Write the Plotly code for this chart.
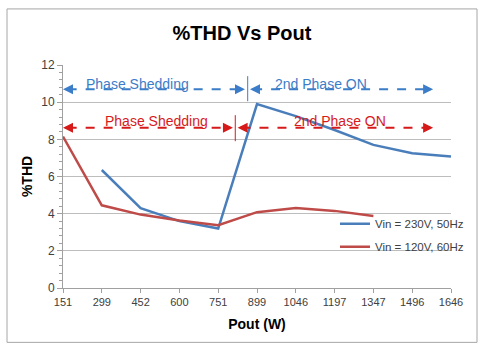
import plotly.graph_objects as go

categories = ["151", "299", "452", "600", "751", "899", "1046", "1197", "1347", "1496", "1646"]
thd_230 = [None, 6.35, 4.3, 3.6, 3.2, 9.9, 9.25, 8.5, 7.7, 7.25, 7.07]
thd_120 = [8.15, 4.45, 3.95, 3.63, 3.38, 4.08, 4.3, 4.15, 3.88, None, None]
series_names = ["Vin = 230V, 50Hz", "Vin = 120V, 60Hz"]

BLUE = "#4a7ebb"
RED = "#be4b48"
ABLUE = "#3b7dc8"
ARED = "#d61a1a"
FONT = "Liberation Sans"

xs = list(range(len(categories)))

fig = go.Figure()
fig.add_trace(go.Scatter(x=xs, y=thd_230, mode="lines", name=series_names[0], legendgroup="a",
                         line=dict(color=BLUE, width=2.5)))
fig.add_trace(go.Scatter(x=xs, y=thd_120, mode="lines", name=series_names[1], legendgroup="b",
                         line=dict(color=RED, width=2.5)))

# paper-coord helpers from pixel positions
L, R, T, B = 63, 451, 65, 287.7
def px(x):
    return (x - L) / (R - L)
def py(y):
    return (B - y) / (B - T)

shapes = []
annotations = []

def dashed(x0, x1, y, color):
    shapes.append(dict(type="line", xref="x", yref="y", x0=x0, x1=x1, y0=y, y1=y,
                       line=dict(color=color, width=2, dash="dash")))

def head(x, y, color, direction):
    annotations.append(dict(x=x, y=y, xref="x", yref="y", text="", showarrow=True,
                            ax=-9 * direction, ay=0, arrowhead=2, arrowsize=1,
                            arrowwidth=2, arrowcolor=color))

def label(x, y, text, color):
    annotations.append(dict(x=px(x), y=py(y), xref="paper", yref="paper", text=text,
                            xanchor="center", yanchor="middle", showarrow=False,
                            font=dict(family=FONT, size=14, color=color)))

# blue annotations (y = 10.7)
yb = 10.7
dashed(0.12, 4.6, yb, ABLUE)
head(0.0, yb, ABLUE, -1)
head(4.69, yb, ABLUE, 1)
dashed(4.9, 9.4, yb, ABLUE)
head(4.82, yb, ABLUE, -1)
head(9.54, yb, ABLUE, 1)
shapes.append(dict(type="line", xref="x", yref="y", x0=4.76, x1=4.76, y0=10.05, y1=11.4,
                   line=dict(color=ABLUE, width=1)))
label(137, 84, "Phase Shedding", ABLUE)
label(321, 84, "2nd Phase ON", ABLUE)

# red annotations (y = 8.62)
yr = 8.62
dashed(0.12, 4.3, yr, ARED)
head(0.0, yr, ARED, -1)
head(4.38, yr, ARED, 1)
dashed(4.6, 9.4, yr, ARED)
head(4.5, yr, ARED, -1)
head(9.54, yr, ARED, 1)
shapes.append(dict(type="line", xref="x", yref="y", x0=4.44, x1=4.44, y0=7.9, y1=9.3,
                   line=dict(color=ARED, width=1)))
label(156, 121, "Phase Shedding", ARED)
label(340, 121, "2nd Phase ON", ARED)

# outer frame
shapes.append(dict(type="rect", xref="paper", yref="paper", x0=px(7), x1=px(477),
                   y0=py(342), y1=py(9), line=dict(color="#a6a6a6", width=1), layer="below"))

fig.update_layout(
    width=484, height=348,
    margin=dict(l=L, r=484 - R, t=T, b=348 - B),
    paper_bgcolor="white", plot_bgcolor="white",
    font=dict(family=FONT, size=11, color="#404040"),
    title=dict(text="<b>%THD Vs Pout</b>", x=0.5, xref="container", xanchor="center",
               y=1 - 33 / 348, yanchor="middle",
               font=dict(family=FONT, size=20, color="#000000")),
    showlegend=True,
    legend=dict(x=px(335), y=py(209), xanchor="left", yanchor="top",
                bgcolor="rgba(0,0,0,0)", font=dict(family=FONT, size=11.5, color="#404040"),
                itemwidth=30, tracegroupgap=4),
    xaxis=dict(range=[0, 10], tickvals=xs, ticktext=categories, showgrid=False,
               showline=True, linecolor="#a0a0a0", linewidth=1,
               ticks="outside", ticklen=4, tickcolor="#a0a0a0",
               zeroline=False, tickfont=dict(size=11, color="#404040"),
               title=dict(text="<b>Pout (W)</b>", font=dict(family=FONT, size=14, color="#000000"),
                          standoff=11)),
    yaxis=dict(range=[0, 12], dtick=2, showgrid=True, gridcolor="#bdbdbd", gridwidth=1,
               showline=True, linecolor="#a0a0a0", linewidth=1,
               ticks="outside", ticklen=5, tickcolor="#a0a0a0",
               minor=dict(dtick=0.4, ticks="outside", ticklen=3, tickcolor="#a0a0a0", showgrid=False),
               zeroline=False, tickfont=dict(size=12, color="#404040"),
               title=dict(text="<b>%THD</b>", font=dict(family=FONT, size=14, color="#000000"),
                          standoff=5)),
    shapes=shapes,
    annotations=annotations,
)

fig.write_html("out.html")
